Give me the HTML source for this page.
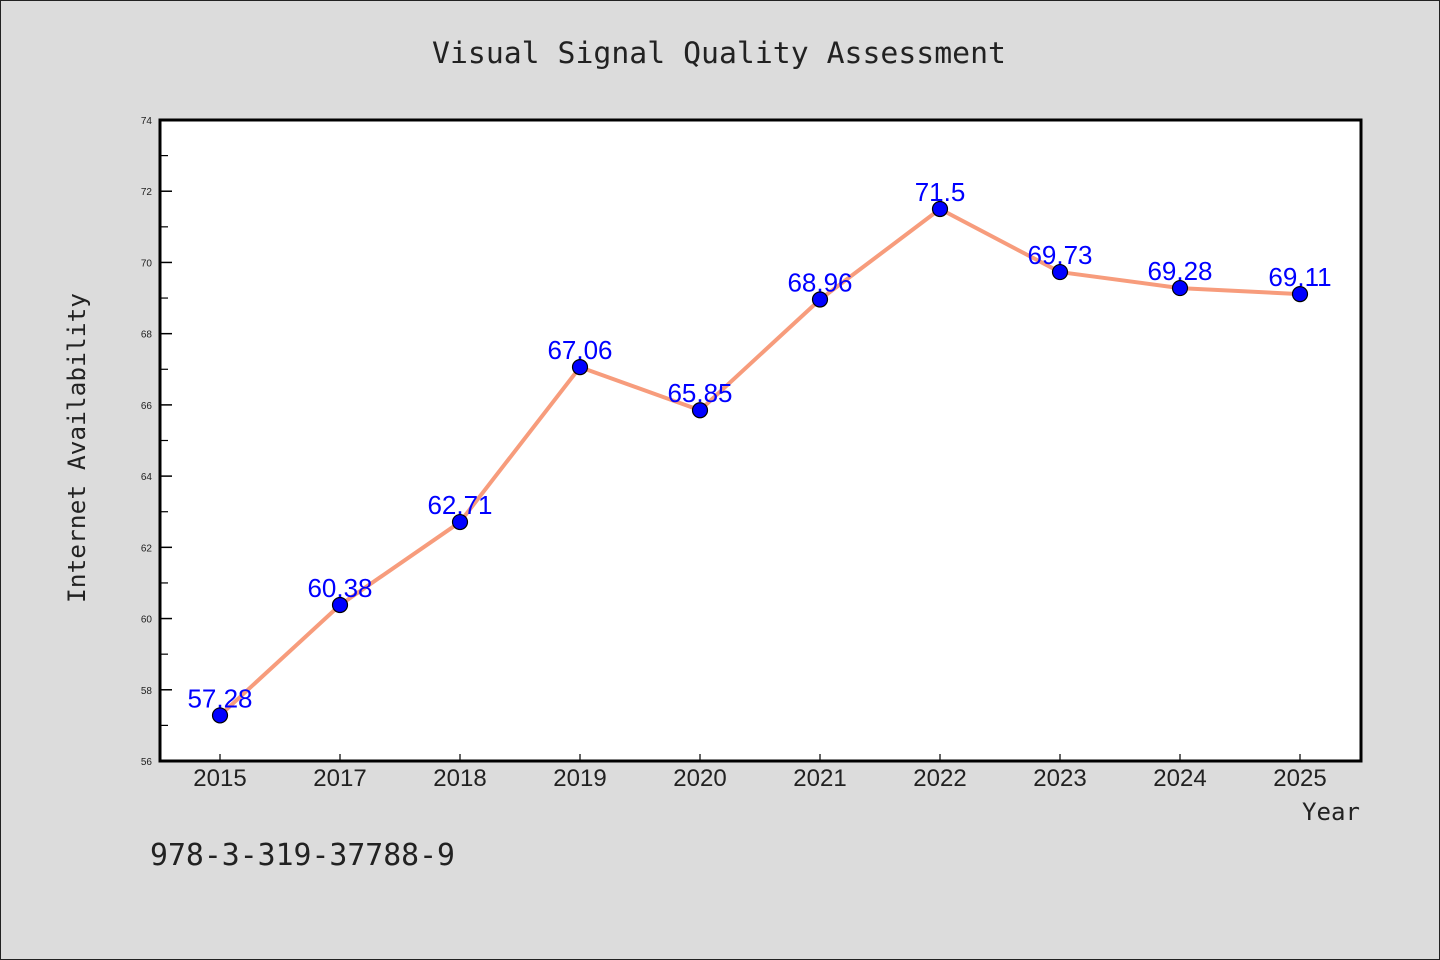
<!DOCTYPE html>
<html><head><meta charset="utf-8"><style>
html,body{margin:0;padding:0;background:#dcdcdc;}
svg{display:block;}
.mono{font-family:"DejaVu Sans Mono","Liberation Mono",monospace;fill:#222;}
.sans{font-family:"Liberation Sans","DejaVu Sans",sans-serif;}
</style></head><body>
<svg id="chart" width="1440" height="960" xmlns="http://www.w3.org/2000/svg">
<rect x="0.5" y="0.5" width="1439" height="959" fill="#dcdcdc" stroke="#222"/>
<text class="mono" x="719" y="63" font-size="29" text-anchor="middle" textLength="574" lengthAdjust="spacingAndGlyphs">Visual Signal Quality Assessment</text>
<rect x="160" y="120" width="1201" height="641" fill="#fff"/>
<g id="axes"></g>
<g id="series"></g>
<rect x="160" y="120" width="1201" height="641" fill="none" stroke="#000" stroke-width="3"/>
<text class="mono" transform="translate(85,448) rotate(-90)" font-size="24" text-anchor="middle" textLength="310" lengthAdjust="spacingAndGlyphs">Internet Availability</text>
<text class="mono" x="1360" y="820" font-size="24" text-anchor="end" textLength="58" lengthAdjust="spacingAndGlyphs">Year</text>
<text class="mono" x="150" y="865" font-size="30" textLength="305" lengthAdjust="spacingAndGlyphs">978-3-319-37788-9</text>
</svg>
<script>
const categories=["2015","2017","2018","2019","2020","2021","2022","2023","2024","2025"];
const values=[57.28,60.38,62.71,67.06,65.85,68.96,71.5,69.73,69.28,69.11];
const labels=["57.28","60.38","62.71","67.06","65.85","68.96","71.5","69.73","69.28","69.11"];
const yTicks=[56,58,60,62,64,66,68,70,72,74];
const NS="http://www.w3.org/2000/svg";
const x0=160,x1=1361,y0=761,y1=120,yMin=56,yMax=74;
const xs=i=>220+i*(1300-220)/(categories.length-1);
const ys=v=>y0-(v-yMin)/(yMax-yMin)*(y0-y1);
function mk(t,a,p){const e=document.createElementNS(NS,t);for(const k in a)e.setAttribute(k,a[k]);p.appendChild(e);return e;}
const ax=document.getElementById('axes'),se=document.getElementById('series');
yTicks.forEach((v,i)=>{
 const l=mk('line',{x1:x0,x2:x0+12,y1:ys(v),y2:ys(v),stroke:'#000','stroke-width':1.5},ax);
 
 
 const t=mk('text',{x:152,y:ys(v)+4,'font-size':10,'text-anchor':'end',class:'sans',fill:'#222'},ax);
 t.textContent=v;
 
 
 if(i<yTicks.length-1){
  const m=mk('line',{x1:x0,x2:x0+8,y1:ys(v+1),y2:ys(v+1),stroke:'#000','stroke-width':1.2},ax);
  
  
 }
});
categories.forEach((c,i)=>{
 const l=mk('line',{x1:xs(i),x2:xs(i),y1:y0,y2:y0-7,stroke:'#000','stroke-width':1.2},ax);
 
 
 const t=mk('text',{x:xs(i),y:786,'font-size':24,'text-anchor':'middle',class:'sans',fill:'#222'},ax);
 t.textContent=c;
 
 
});
const pts=values.map((v,i)=>xs(i)+','+ys(v)).join(' ');
const pl=mk('polyline',{points:pts,fill:'none',stroke:'#f79c7c','stroke-width':4,'stroke-linejoin':'round'},se);


values.forEach((v,i)=>{
 const c=mk('circle',{cx:xs(i),cy:ys(v),r:7.5,fill:'#0000ff',stroke:'#000','stroke-width':1.2},se);
 
 
});
values.forEach((v,i)=>{
 const t=mk('text',{x:xs(i),y:ys(v)-8,'font-size':26,'text-anchor':'middle',class:'sans',fill:'#0000ff'},se);
 t.textContent=labels[i];
 
 
});
</script>
</body></html>
